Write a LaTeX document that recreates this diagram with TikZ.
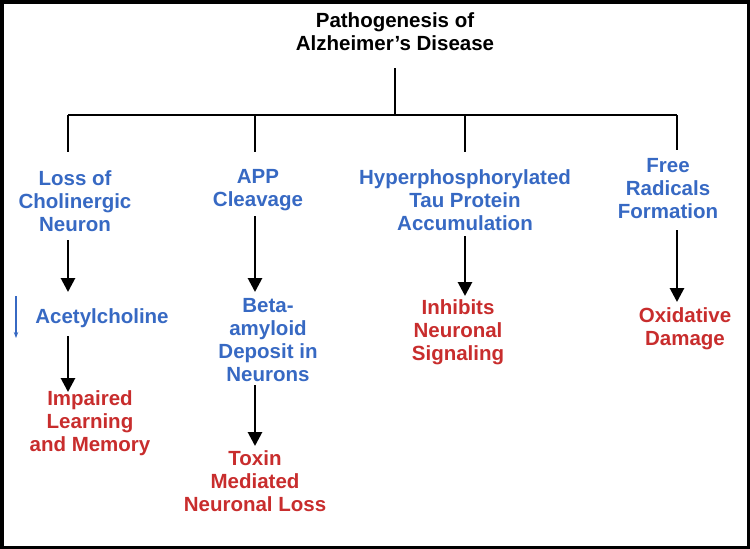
\documentclass[tikz,border=0pt]{standalone}
\usepackage{fontspec}
\setmainfont{Liberation Sans}
\usetikzlibrary{arrows.meta}
\definecolor{cblue}{RGB}{55,105,195}
\definecolor{cred}{RGB}{200,45,45}
\begin{document}
\begin{tikzpicture}[x=1pt,y=-1pt,
  t/.style={font=\fontsize{20.5}{23}\selectfont\bfseries,align=center,inner sep=0pt},
  b/.style={t,text=cblue},
  r/.style={t,text=cred},
  ln/.style={line width=2.8pt,black},
  ar/.style={ln,-{Triangle[length=14pt,width=14pt]}}]
\useasboundingbox (0,0) rectangle (750,549);
\draw[line width=3.5pt] (1.75,1.75) rectangle (748.25,547.25);
\node[t,text=black] (title) at (395,32) {Pathogenesis of\\Alzheimer's Disease};
\coordinate (j) at (395,115);
\coordinate (h1) at (68,115);
\coordinate (h4) at (677,115);
\draw[ln] (395,68) -- (j);
\draw[ln] (h1) -- (h4);
\node[b] (c1) at (75,201) {Loss of\\Cholinergic\\Neuron};
\node[b] (c2) at (258,190) {APP\\Cleavage};
\node[b] (c3) at (465,200) {Hyperphosphorylated\\Tau Protein\\Accumulation};
\node[b] (c4) at (668,189) {Free\\Radicals\\Formation};
\draw[ln] (h1) -- (68,152);
\draw[ln] (255,115) -- (255,152);
\draw[ln] (465,115) -- (465,152);
\draw[ln] (677,115) -- (677,150);
\node[b] (ach) at (102,318) {Acetylcholine};
\coordinate (d1) at (16,296);
\coordinate (d2) at (16,338);
\draw[cblue,line width=1.2pt,-{Stealth[length=6pt]}] (d1) -- (d2);
\node[r] (m1) at (90,423) {Impaired\\Learning\\and Memory};
\node[b] (ba) at (268,340) {Beta-\\amyloid\\Deposit in\\Neurons};
\node[r] (m2) at (255,481) {Toxin\\Mediated\\Neuronal Loss};
\node[r] (m3) at (458,332) {Inhibits\\Neuronal\\Signaling};
\node[r] (m4) at (685,329) {Oxidative\\Damage};
\draw[ar] (68,240) -- (68,292);
\draw[ar] (68,336) -- (68,392);
\draw[ar] (255,216) -- (255,292);
\draw[ar] (255,385) -- (255,446);
\draw[ar] (465,236) -- (465,296);
\draw[ar] (677,230) -- (677,302);
\end{tikzpicture}
\end{document}
